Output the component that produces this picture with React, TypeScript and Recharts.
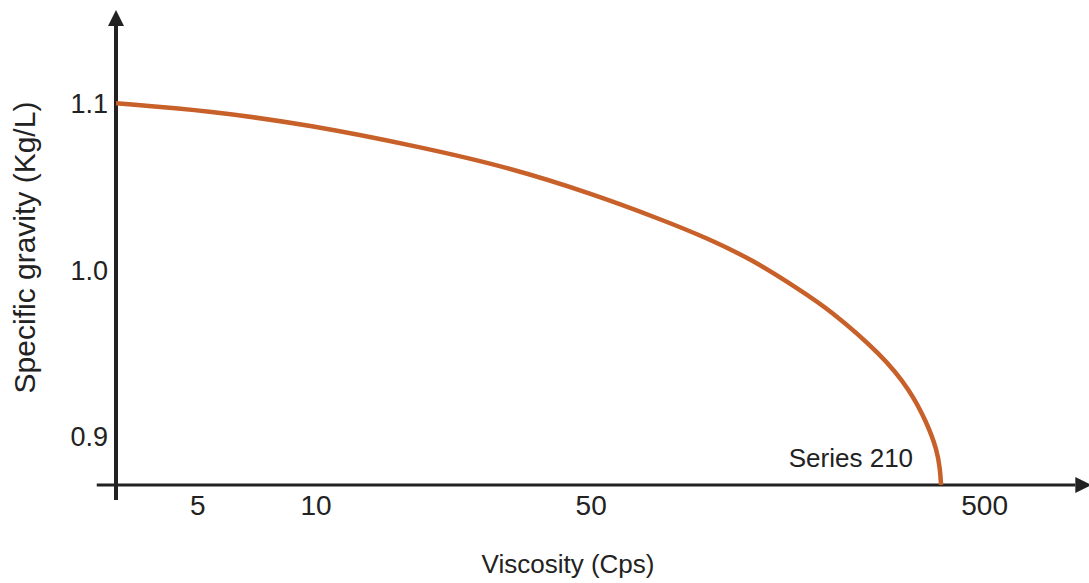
import React from 'react';
import { LineChart, Line, XAxis, YAxis, ReferenceLine, Label } from 'recharts';

// values (viscosity on a log axis)
const viscosity = [3.1, 5.4, 9.65, 18.4, 30.6, 50.5, 74.8, 98.5, 128.9, 169.7, 202.4, 274.3, 323.2, 357.0, 378.4, 385.2, 387.5];
const specificGravity = [1.1, 1.0954, 1.087, 1.0738, 1.0618, 1.0456, 1.0306, 1.0192, 1.006, 0.988, 0.976, 0.949, 0.928, 0.9082, 0.892, 0.8806, 0.871];
const xTicks = [5, 10, 50, 500];
const yTicks = [0.9, 1.0, 1.1];
const seriesName = 'Series 210';

const X_DOMAIN: [number, number] = [3.1, 615];
const Y_DOMAIN: [number, number] = [0.871, 1.15];

const FONT = '"Liberation Sans", Arial, sans-serif';
const INK = '#222222';
const CURVE = '#C8602A';

const data = viscosity.map((v, i) => ({ viscosity: v, gravity: specificGravity[i] }));
const lastIndex = data.length - 1;

const renderSeriesLabel = (props: any) => {
  const { x, y, index } = props;
  if (index !== lastIndex) return null;
  return (
    <text x={x - 28} y={y - 18} textAnchor="end" fontSize={26} fontFamily={FONT} fill={INK}>
      {seriesName}
    </text>
  );
};

const YTitle = (props: any) => {
  const { viewBox } = props;
  const x = viewBox.x + 35;
  const y = viewBox.y + viewBox.height / 2 - 5;
  return (
    <text
      x={x}
      y={y}
      transform={`rotate(-90, ${x}, ${y})`}
      textAnchor="middle"
      fontSize={30}
      fontFamily={FONT}
      fill={INK}
    >
      Specific gravity (Kg/L)
    </text>
  );
};

export default function App() {
  return (
    <div style={{ position: 'absolute', left: 0, top: 0, background: '#fff' }}>
      <LineChart
        width={1089}
        height={583}
        data={data}
        margin={{ top: 20, right: 69, bottom: 0, left: 0 }}
      >
        <defs>
          <marker
            id="arrowHead"
            viewBox="0 0 16 16"
            markerWidth={16}
            markerHeight={16}
            markerUnits="userSpaceOnUse"
            refX={0}
            refY={8}
            orient="auto"
          >
            <path d="M0,0 L16,8 L0,16 z" fill={INK} />
          </marker>
        </defs>
        <XAxis
          dataKey="viscosity"
          type="number"
          scale="log"
          domain={X_DOMAIN}
          allowDataOverflow
          ticks={xTicks}
          axisLine={false}
          tickLine={false}
          tickSize={0}
          tickMargin={10}
          height={98}
          tick={{ fontSize: 28, fontFamily: FONT, fill: INK }}
        >
          <Label
            value="Viscosity (Cps)"
            position="insideBottom"
            offset={10}
            fontSize={26}
            fontFamily={FONT}
            fill={INK}
          />
        </XAxis>
        <YAxis
          type="number"
          domain={Y_DOMAIN}
          allowDataOverflow
          ticks={yTicks}
          tickFormatter={(v: number) => v.toFixed(1)}
          axisLine={false}
          tickLine={false}
          tickSize={0}
          tickMargin={8}
          width={116}
          tick={{ fontSize: 27, fontFamily: FONT, fill: INK }}
        >
          <Label content={YTitle} />
        </YAxis>
        {/* axis lines with arrow heads */}
        <ReferenceLine
          segment={[{ x: 2.77, y: Y_DOMAIN[0] }, { x: 850, y: Y_DOMAIN[0] }]}
          ifOverflow="visible"
          stroke={INK}
          strokeWidth={3}
          markerEnd="url(#arrowHead)"
        />
        <ReferenceLine
          segment={[{ x: X_DOMAIN[0], y: 0.862 }, { x: X_DOMAIN[0], y: 1.1464 }]}
          ifOverflow="visible"
          stroke={INK}
          strokeWidth={4}
          markerEnd="url(#arrowHead)"
        />
        <Line
          dataKey="gravity"
          type="basis"
          stroke={CURVE}
          strokeWidth={4.5}
          dot={false}
          activeDot={false}
          isAnimationActive={false}
          label={renderSeriesLabel}
        />
      </LineChart>
    </div>
  );
}
